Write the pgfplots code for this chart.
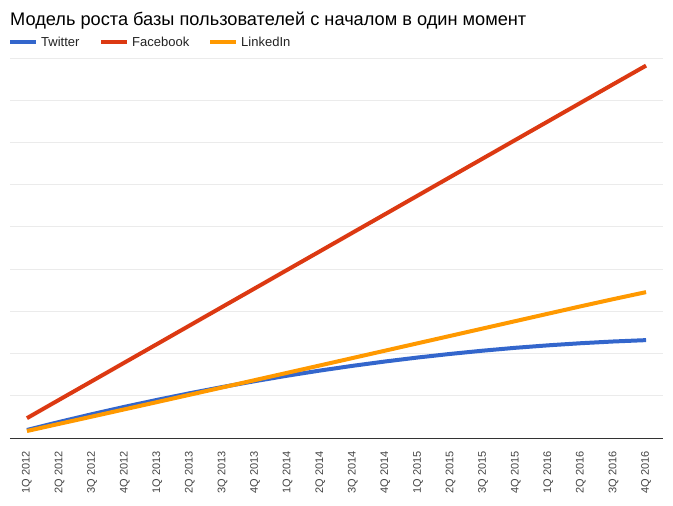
\documentclass[border=0pt]{standalone}
\usepackage{pgfplots}
\pgfplotsset{compat=1.18}
\usepackage{fontspec}
\setmainfont{Liberation Sans}
\definecolor{twc}{HTML}{3366CC}
\definecolor{fbc}{HTML}{DC3912}
\definecolor{lic}{HTML}{FF9900}
\definecolor{gridc}{HTML}{EBEBEB}
\definecolor{txtc}{HTML}{222222}
\definecolor{tickc}{HTML}{444444}
\begin{document}
\begin{tikzpicture}
\useasboundingbox (-10bp,-68bp) rectangle (663bp,438bp);
\begin{axis}[
  at={(0,0)}, anchor=south west,
  scale only axis, width=653bp, height=380bp,
  xmin=-0.52, xmax=19.52, ymin=0, ymax=9,
  axis line style={draw=none},
  axis x line*=bottom,
  ytick={1,2,3,4,5,6,7,8,9},
  yticklabels={},
  ymajorgrids, grid style={gridc, line width=0.8pt},
  xtick={0,...,19},
  xticklabels={1Q 2012,2Q 2012,3Q 2012,4Q 2012,1Q 2013,2Q 2013,3Q 2013,4Q 2013,1Q 2014,2Q 2014,3Q 2014,4Q 2014,1Q 2015,2Q 2015,3Q 2015,4Q 2015,1Q 2016,2Q 2016,3Q 2016,4Q 2016},
  major tick length=0pt,
  xticklabel style={rotate=90, anchor=east, inner sep=0pt, font=\fontsize{11bp}{13bp}\selectfont, text=tickc},
  xticklabel shift=13bp,
  clip=false,
]
\addplot[twc, line width=4bp, line join=round] coordinates {
(0,0.190) (1,0.382) (2,0.565) (3,0.739) (4,0.904) (5,1.061) (6,1.208) (7,1.347) (8,1.477) (9,1.598)
(10,1.710) (11,1.813) (12,1.907) (13,1.992) (14,2.069) (15,2.137) (16,2.195) (17,2.245) (18,2.286) (19,2.318)};
\addplot[lic, line width=4bp, line join=round] coordinates {
(0,0.166) (1,0.337) (2,0.508) (3,0.680) (4,0.852) (5,1.025) (6,1.198) (7,1.372) (8,1.546) (9,1.720)
(10,1.895) (11,2.070) (12,2.245) (13,2.420) (14,2.595) (15,2.770) (16,2.945) (17,3.120) (18,3.290) (19,3.455)};
\addplot[fbc, line width=4bp, line join=round] coordinates {
(0,0.470) (1,0.910) (2,1.349) (3,1.789) (4,2.228) (5,2.668) (6,3.108) (7,3.547) (8,3.987) (9,4.426)
(10,4.866) (11,5.305) (12,5.745) (13,6.185) (14,6.624) (15,7.064) (16,7.503) (17,7.943) (18,8.382) (19,8.820)};
\draw[color=black!80, line width=1bp] (rel axis cs:0,0) -- (rel axis cs:1,0);
\end{axis}
\node[anchor=base west, inner sep=0pt, text=black, font=\fontsize{18.2bp}{22bp}\selectfont] at (0bp,412bp) {Модель роста базы пользователей с началом в один момент};
\draw[twc, line width=4bp] (0bp,396bp) -- (26bp,396bp);
\node[anchor=base west, inner sep=0pt, text=txtc, font=\fontsize{13bp}{15bp}\selectfont] at (31bp,391bp) {Twitter};
\draw[fbc, line width=4bp] (91bp,396bp) -- (117bp,396bp);
\node[anchor=base west, inner sep=0pt, text=txtc, font=\fontsize{13bp}{15bp}\selectfont] at (122bp,391bp) {Facebook};
\draw[lic, line width=4bp] (200bp,396bp) -- (226bp,396bp);
\node[anchor=base west, inner sep=0pt, text=txtc, font=\fontsize{13bp}{15bp}\selectfont] at (231bp,391bp) {LinkedIn};
\end{tikzpicture}
\end{document}
